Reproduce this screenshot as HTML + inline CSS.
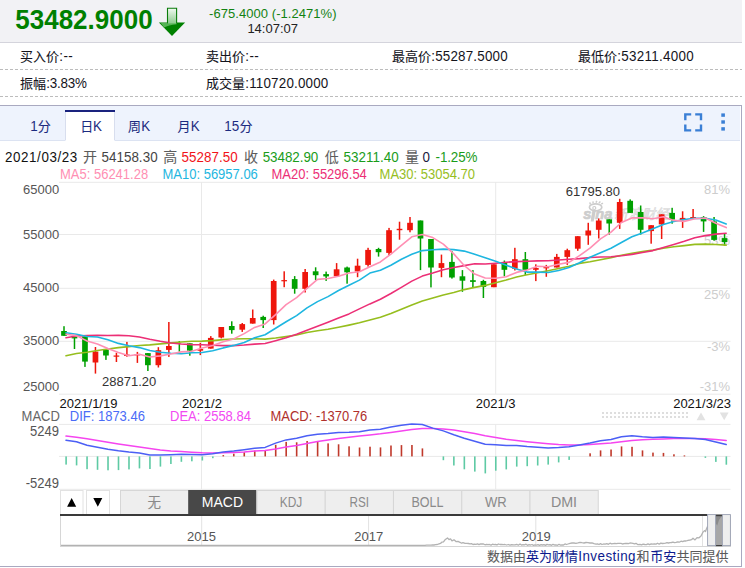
<!DOCTYPE html>
<html><head><meta charset="utf-8"><title>chart</title>
<style>html,body{margin:0;padding:0;background:#fff;overflow:hidden}svg{display:block}text{font-family:"Liberation Sans","Noto Sans CJK SC",sans-serif}</style>
</head><body>
<svg width="745" height="568" viewBox="0 0 745 568">
<rect x="0" y="0" width="742" height="42" fill="#f2f2f5"/>
<rect x="0" y="42" width="742" height="1" fill="#d4d4dc"/>
<g transform="translate(15.3,28.7) scale(1,1.075)"><text x="0" y="0" font-size="26" fill="#008000" font-weight="bold">53482.9000</text></g>
<defs><linearGradient id="ag" x1="0" y1="0" x2="0" y2="1"><stop offset="0" stop-color="#eef8ee"/><stop offset="1" stop-color="#8ecb8e"/></linearGradient>
<linearGradient id="ah" x1="0" y1="0" x2="1" y2="1"><stop offset="0" stop-color="#2a9a2a"/><stop offset="0.45" stop-color="#008000"/><stop offset="1" stop-color="#007800"/></linearGradient></defs>
<path d="M158.9 22.4H185.1L172 36Z" fill="#008000"/>
<path d="M160.800 23H176.600V24.300C171.500 24.700 166.800 26.200 164 27.600Z" fill="#55b455"/>
<rect x="168" y="8.8" width="8.1" height="14.6" fill="url(#ag)"/>
<path d="M167.500 23.200V8.300H176.600V23.200" fill="none" stroke="#0a7c0a" stroke-width="1.1"/>
<text x="272.8" y="17.9" font-size="13" fill="#128212" text-anchor="middle" textLength="127.4" lengthAdjust="spacing">-675.4000 (-1.2471%)</text>
<text x="272.7" y="33.2" font-size="13" fill="#222" text-anchor="middle">14:07:07</text>
<line x1="0" y1="69.5" x2="742" y2="69.5" stroke="#bcbcbc" stroke-width="1" stroke-dasharray="3 2"/>
<line x1="0" y1="96.5" x2="742" y2="96.5" stroke="#bcbcbc" stroke-width="1" stroke-dasharray="3 2"/>
<text x="20" y="60.5" font-size="13" fill="#14141c" stroke="#14141c" stroke-width="0.08">买入价</text><g transform="translate(59.3,60.8) scale(1,1.05)"><text x="0" y="0" font-size="13.4" fill="#14141c" textLength="13.4" lengthAdjust="spacing">:--</text></g>
<text x="206" y="60.5" font-size="13" fill="#14141c" stroke="#14141c" stroke-width="0.08">卖出价</text><g transform="translate(245.3,60.8) scale(1,1.05)"><text x="0" y="0" font-size="13.4" fill="#14141c" textLength="13.4" lengthAdjust="spacing">:--</text></g>
<text x="392" y="60.5" font-size="13" fill="#14141c" stroke="#14141c" stroke-width="0.08">最高价</text><g transform="translate(431.3,60.8) scale(1,1.05)"><text x="0" y="0" font-size="13.4" fill="#14141c" textLength="76.3" lengthAdjust="spacing">:55287.5000</text></g>
<text x="578" y="60.5" font-size="13" fill="#14141c" stroke="#14141c" stroke-width="0.08">最低价</text><g transform="translate(617.3,60.8) scale(1,1.05)"><text x="0" y="0" font-size="13.4" fill="#14141c" textLength="76.3" lengthAdjust="spacing">:53211.4000</text></g>
<text x="20" y="87.5" font-size="13" fill="#14141c" stroke="#14141c" stroke-width="0.08">振幅</text><g transform="translate(46.3,87.8) scale(1,1.05)"><text x="0" y="0" font-size="13.4" fill="#14141c" textLength="40.5" lengthAdjust="spacing">:3.83%</text></g>
<text x="206" y="87.5" font-size="13" fill="#14141c" stroke="#14141c" stroke-width="0.08">成交量</text><g transform="translate(245.3,87.8) scale(1,1.05)"><text x="0" y="0" font-size="13.4" fill="#14141c" textLength="83" lengthAdjust="spacing">:110720.0000</text></g>
<rect x="-1" y="105.5" width="742.5" height="461" fill="#fff" stroke="#a9a9c0" stroke-width="1"/>
<rect x="0" y="106" width="740" height="34" fill="#eef3fd"/>
<rect x="0" y="140" width="740" height="1" fill="#dce3f2"/>
<rect x="65.5" y="110" width="49" height="31" fill="#fff"/>
<rect x="65" y="112" width="1" height="28" fill="#d8deee"/><rect x="114" y="112" width="1" height="28" fill="#d8deee"/>
<rect x="65" y="110" width="50" height="2" fill="#1a237e"/>
<g transform="translate(30.3,131.2) scale(1,1.05)"><text x="0" y="0" font-size="13.4" fill="#1c2b80">1</text></g><text x="37.8" y="130.9" font-size="13" fill="#1c2b80" stroke="#1c2b80" stroke-width="0.08">分</text>
<text x="80.3" y="130.9" font-size="13" fill="#1c2b80" stroke="#1c2b80" stroke-width="0.08">日</text><g transform="translate(93.0,131.2) scale(1,1.05)"><text x="0" y="0" font-size="13.4" fill="#1c2b80">K</text></g>
<text x="128" y="130.9" font-size="13" fill="#1c2b80" stroke="#1c2b80" stroke-width="0.08">周</text><g transform="translate(141.2,131.2) scale(1,1.05)"><text x="0" y="0" font-size="13.4" fill="#1c2b80">K</text></g>
<text x="177.5" y="130.9" font-size="13" fill="#1c2b80" stroke="#1c2b80" stroke-width="0.08">月</text><g transform="translate(190.7,131.2) scale(1,1.05)"><text x="0" y="0" font-size="13.4" fill="#1c2b80">K</text></g>
<g transform="translate(224.3,131.2) scale(1,1.05)"><text x="0" y="0" font-size="13.4" fill="#1c2b80" textLength="15" lengthAdjust="spacing">15</text></g><text x="239.6" y="130.9" font-size="13" fill="#1c2b80" stroke="#1c2b80" stroke-width="0.08">分</text>
<path d="M685.3 120.2V114.4H691.2M695.2 114.4H701V120.2M701 124.6V130.4H695.2M691.2 130.4H685.3V124.6" fill="none" stroke="#3a7fd5" stroke-width="2.4"/>
<rect x="721.3" y="113.4" width="3.6" height="3.4" fill="#3a7fd5"/>
<rect x="721.3" y="120.3" width="3.6" height="3.4" fill="#3a7fd5"/>
<rect x="721.3" y="127.2" width="3.6" height="3.4" fill="#3a7fd5"/>
<g transform="translate(5,161.7) scale(1,1.05)"><text x="0" y="0" font-size="13.4" fill="#111" textLength="72.2" lengthAdjust="spacing">2021/03/23</text></g>
<text x="83.1" y="161.7" font-size="14" fill="#5c5c5c" stroke="#5c5c5c" stroke-width="0.06">开</text>
<g transform="translate(101.4,161.7) scale(1,1.05)"><text x="0" y="0" font-size="13.4" fill="#444" textLength="56.2" lengthAdjust="spacing">54158.30</text></g>
<text x="163.3" y="161.7" font-size="14" fill="#5c5c5c" stroke="#5c5c5c" stroke-width="0.06">高</text>
<g transform="translate(181.6,161.7) scale(1,1.05)"><text x="0" y="0" font-size="13.4" fill="#f1131a" textLength="56.2" lengthAdjust="spacing">55287.50</text></g>
<text x="244.1" y="161.7" font-size="14" fill="#5c5c5c" stroke="#5c5c5c" stroke-width="0.06">收</text>
<g transform="translate(262.7,161.7) scale(1,1.05)"><text x="0" y="0" font-size="13.4" fill="#1a9c1a" textLength="55.6" lengthAdjust="spacing">53482.90</text></g>
<text x="324.7" y="161.7" font-size="14" fill="#5c5c5c" stroke="#5c5c5c" stroke-width="0.06">低</text>
<g transform="translate(343.6,161.7) scale(1,1.05)"><text x="0" y="0" font-size="13.4" fill="#1a9c1a" textLength="55.2" lengthAdjust="spacing">53211.40</text></g>
<text x="404.9" y="161.7" font-size="14" fill="#5c5c5c" stroke="#5c5c5c" stroke-width="0.06">量</text>
<g transform="translate(422.4,161.7) scale(1,1.05)"><text x="0" y="0" font-size="13.4" fill="#1a1a40">0</text></g>
<g transform="translate(435.6,161.7) scale(1,1.05)"><text x="0" y="0" font-size="13.4" fill="#1a9c1a" textLength="41.8" lengthAdjust="spacing">-1.25%</text></g>
<line x1="59" y1="182.3" x2="730.5" y2="182.3" stroke="#e9e9e9" stroke-width="1"/><line x1="59" y1="234.5" x2="730.5" y2="234.5" stroke="#e9e9e9" stroke-width="1"/><line x1="59" y1="288.3" x2="730.5" y2="288.3" stroke="#e9e9e9" stroke-width="1"/><line x1="59" y1="341.3" x2="730.5" y2="341.3" stroke="#e9e9e9" stroke-width="1"/><line x1="59" y1="394.2" x2="730.5" y2="394.2" stroke="#e9e9e9" stroke-width="1"/><line x1="201.5" y1="182" x2="201.5" y2="394" stroke="#e9e9e9" stroke-width="1"/><line x1="201.5" y1="424.4" x2="201.5" y2="489.3" stroke="#e9e9e9" stroke-width="1"/><line x1="495.7" y1="182" x2="495.7" y2="394" stroke="#e9e9e9" stroke-width="1"/><line x1="495.7" y1="424.4" x2="495.7" y2="489.3" stroke="#e9e9e9" stroke-width="1"/>
<g transform="translate(60,178.6) scale(1,1.07)"><text x="0" y="0" font-size="13" fill="#ff8fb3">MA5: 56241.28</text></g>
<g transform="translate(162.5,178.6) scale(1,1.07)"><text x="0" y="0" font-size="13" fill="#1eb6e0">MA10: 56957.06</text></g>
<g transform="translate(271.5,178.6) scale(1,1.07)"><text x="0" y="0" font-size="13" fill="#ec2f76">MA20: 55296.54</text></g>
<g transform="translate(379.6,178.6) scale(1,1.07)"><text x="0" y="0" font-size="13" fill="#96be1e">MA30: 53054.70</text></g>
<g transform="translate(59.2,194.2) scale(1,1.05)"><text x="0" y="0" font-size="13" fill="#555" text-anchor="end">65000</text></g>
<g transform="translate(59.2,239.3) scale(1,1.05)"><text x="0" y="0" font-size="13" fill="#555" text-anchor="end">55000</text></g>
<g transform="translate(59.2,292.1) scale(1,1.05)"><text x="0" y="0" font-size="13" fill="#555" text-anchor="end">45000</text></g>
<g transform="translate(59.2,345.1) scale(1,1.05)"><text x="0" y="0" font-size="13" fill="#555" text-anchor="end">35000</text></g>
<g transform="translate(59.2,391.4) scale(1,1.05)"><text x="0" y="0" font-size="13" fill="#555" text-anchor="end">25000</text></g>
<g transform="translate(730,194.1) scale(1,1.05)"><text x="0" y="0" font-size="13" fill="#cdcdcd" text-anchor="end">81%</text></g>
<g transform="translate(730,245.0) scale(1,1.05)"><text x="0" y="0" font-size="13" fill="#cdcdcd" text-anchor="end">53%</text></g>
<g transform="translate(730,298.8) scale(1,1.05)"><text x="0" y="0" font-size="13" fill="#cdcdcd" text-anchor="end">25%</text></g>
<g transform="translate(730,351.1) scale(1,1.05)"><text x="0" y="0" font-size="13" fill="#cdcdcd" text-anchor="end">-3%</text></g>
<g transform="translate(730,391.2) scale(1,1.05)"><text x="0" y="0" font-size="13" fill="#cdcdcd" text-anchor="end">-31%</text></g>
<text x="583.2" y="218.7" font-size="14.2" font-weight="bold" font-style="italic" fill="#cdcdcd" stroke="#cdcdcd" stroke-width="0.7" textLength="29.2" lengthAdjust="spacingAndGlyphs">sina</text>
<path d="M592.6 210.500L590.700 221.600H593.700L595.600 210.500Z" fill="#cdcdcd"/>
<ellipse cx="595.6" cy="207.3" rx="6.2" ry="3.5" fill="#fff" stroke="#cdcdcd" stroke-width="1.7"/>
<circle cx="594.3" cy="208" r="1.5" fill="none" stroke="#cdcdcd" stroke-width="1.2"/>
<path d="M590.300 204.200L589.800 202.400M593 203L593.200 201.300M596 202.600L596.800 200.900M598.900 203L600.400 201.500M601.200 204.200L603 203.200" stroke="#cdcdcd" stroke-width="1.5" fill="none"/>
<g transform="translate(51.500,0) skewX(-13)" stroke-linejoin="round"><text x="613.3" y="218.6" font-size="13.6" fill="#f0f0f0" stroke="#d6d6d6" stroke-width="0.54" textLength="54.8" lengthAdjust="spacing">新浪财经</text></g>
<rect x="63.25" y="326.2" width="1.5" height="9.6" fill="#00a000"/><rect x="61.15" y="331.0" width="5.7" height="4.8" fill="#00a000"/><rect x="73.73" y="336.6" width="1.5" height="12.4" fill="#00a000"/><rect x="71.64" y="336.6" width="5.7" height="1.8" fill="#00a000"/><rect x="84.22" y="336.4" width="1.5" height="30.5" fill="#00a000"/><rect x="82.12" y="336.4" width="5.7" height="25.2" fill="#00a000"/><rect x="94.70" y="347.0" width="1.5" height="26.6" fill="#ee160c"/><rect x="92.61" y="351.6" width="5.7" height="10.9" fill="#ee160c"/><rect x="105.19" y="349.8" width="1.5" height="10.1" fill="#00a000"/><rect x="103.09" y="349.8" width="5.7" height="5.7" fill="#00a000"/><rect x="115.67" y="352.8" width="1.5" height="9.2" fill="#ee160c"/><rect x="113.58" y="355.5" width="5.7" height="1.2" fill="#ee160c"/><rect x="126.16" y="341.9" width="1.5" height="14.8" fill="#ee160c"/><rect x="124.06" y="354.6" width="5.7" height="1.4" fill="#ee160c"/><rect x="136.64" y="351.9" width="1.5" height="11.0" fill="#ee160c"/><rect x="134.54" y="354.2" width="5.7" height="1.2" fill="#ee160c"/><rect x="147.13" y="353.1" width="1.5" height="17.9" fill="#00a000"/><rect x="145.03" y="353.1" width="5.7" height="12.1" fill="#00a000"/><rect x="157.62" y="347.2" width="1.5" height="20.3" fill="#ee160c"/><rect x="155.52" y="350.2" width="5.7" height="15.0" fill="#ee160c"/><rect x="168.10" y="322.0" width="1.5" height="34.9" fill="#ee160c"/><rect x="166.00" y="346.0" width="5.7" height="3.9" fill="#ee160c"/><rect x="178.58" y="341.0" width="1.5" height="10.6" fill="#00a000"/><rect x="189.07" y="343.3" width="1.5" height="12.4" fill="#00a000"/><rect x="186.97" y="343.3" width="5.7" height="7.4" fill="#00a000"/><rect x="199.56" y="342.8" width="1.5" height="12.3" fill="#ee160c"/><rect x="197.46" y="349.0" width="5.7" height="1.7" fill="#ee160c"/><rect x="210.04" y="336.1" width="1.5" height="12.5" fill="#ee160c"/><rect x="207.94" y="337.9" width="5.7" height="10.7" fill="#ee160c"/><rect x="220.52" y="327.0" width="1.5" height="11.4" fill="#ee160c"/><rect x="218.42" y="327.0" width="5.7" height="10.5" fill="#ee160c"/><rect x="231.01" y="321.3" width="1.5" height="12.4" fill="#00a000"/><rect x="228.91" y="326.0" width="5.7" height="4.1" fill="#00a000"/><rect x="241.50" y="323.0" width="1.5" height="8.9" fill="#ee160c"/><rect x="239.40" y="324.1" width="5.7" height="5.6" fill="#ee160c"/><rect x="251.98" y="309.5" width="1.5" height="14.1" fill="#ee160c"/><rect x="249.88" y="318.0" width="5.7" height="5.6" fill="#ee160c"/><rect x="262.46" y="315.7" width="1.5" height="12.3" fill="#00a000"/><rect x="260.36" y="316.9" width="5.7" height="3.2" fill="#00a000"/><rect x="272.95" y="279.6" width="1.5" height="44.9" fill="#ee160c"/><rect x="270.85" y="281.0" width="5.7" height="39.1" fill="#ee160c"/><rect x="283.44" y="271.3" width="1.5" height="15.9" fill="#ee160c"/><rect x="281.33" y="280.1" width="5.7" height="1.2" fill="#ee160c"/><rect x="293.92" y="276.1" width="1.5" height="17.6" fill="#00a000"/><rect x="291.82" y="279.1" width="5.7" height="9.7" fill="#00a000"/><rect x="304.40" y="269.0" width="1.5" height="23.5" fill="#ee160c"/><rect x="302.30" y="272.0" width="5.7" height="16.8" fill="#ee160c"/><rect x="314.89" y="267.3" width="1.5" height="12.8" fill="#00a000"/><rect x="312.79" y="271.3" width="5.7" height="3.9" fill="#00a000"/><rect x="325.38" y="271.6" width="1.5" height="9.3" fill="#00a000"/><rect x="323.27" y="274.1" width="5.7" height="2.3" fill="#00a000"/><rect x="335.86" y="263.1" width="1.5" height="13.2" fill="#ee160c"/><rect x="333.76" y="269.3" width="5.7" height="7.0" fill="#ee160c"/><rect x="346.34" y="266.6" width="1.5" height="17.1" fill="#00a000"/><rect x="344.24" y="267.5" width="5.7" height="4.8" fill="#00a000"/><rect x="356.83" y="258.7" width="1.5" height="18.5" fill="#ee160c"/><rect x="354.73" y="265.7" width="5.7" height="5.8" fill="#ee160c"/><rect x="367.31" y="247.8" width="1.5" height="18.8" fill="#ee160c"/><rect x="365.21" y="249.9" width="5.7" height="15.0" fill="#ee160c"/><rect x="377.80" y="247.8" width="1.5" height="8.8" fill="#00a000"/><rect x="375.70" y="249.0" width="5.7" height="3.2" fill="#00a000"/><rect x="388.28" y="227.9" width="1.5" height="27.8" fill="#ee160c"/><rect x="386.18" y="230.2" width="5.7" height="22.7" fill="#ee160c"/><rect x="398.77" y="221.7" width="1.5" height="18.0" fill="#ee160c"/><rect x="396.67" y="228.8" width="5.7" height="1.4" fill="#ee160c"/><rect x="409.25" y="217.0" width="1.5" height="15.3" fill="#ee160c"/><rect x="407.15" y="222.8" width="5.7" height="7.4" fill="#ee160c"/><rect x="419.74" y="220.5" width="1.5" height="49.6" fill="#00a000"/><rect x="417.64" y="220.5" width="5.7" height="18.0" fill="#00a000"/><rect x="430.22" y="239.0" width="1.5" height="48.4" fill="#00a000"/><rect x="428.12" y="239.0" width="5.7" height="28.5" fill="#00a000"/><rect x="440.71" y="254.6" width="1.5" height="22.6" fill="#ee160c"/><rect x="438.61" y="263.1" width="5.7" height="4.8" fill="#ee160c"/><rect x="451.19" y="251.1" width="1.5" height="27.5" fill="#00a000"/><rect x="449.09" y="261.9" width="5.7" height="15.6" fill="#00a000"/><rect x="461.68" y="270.1" width="1.5" height="21.7" fill="#00a000"/><rect x="459.58" y="276.3" width="5.7" height="4.4" fill="#00a000"/><rect x="472.16" y="270.1" width="1.5" height="17.6" fill="#00a000"/><rect x="470.06" y="280.2" width="5.7" height="1.7" fill="#00a000"/><rect x="482.65" y="279.8" width="1.5" height="18.2" fill="#00a000"/><rect x="480.55" y="281.0" width="5.7" height="5.9" fill="#00a000"/><rect x="493.13" y="264.3" width="1.5" height="22.9" fill="#ee160c"/><rect x="491.03" y="264.3" width="5.7" height="22.9" fill="#ee160c"/><rect x="503.62" y="260.5" width="1.5" height="15.8" fill="#00a000"/><rect x="501.52" y="262.6" width="5.7" height="7.2" fill="#00a000"/><rect x="514.11" y="247.8" width="1.5" height="22.7" fill="#ee160c"/><rect x="512.00" y="259.2" width="5.7" height="9.5" fill="#ee160c"/><rect x="524.59" y="252.0" width="1.5" height="22.9" fill="#00a000"/><rect x="522.49" y="259.2" width="5.7" height="10.6" fill="#00a000"/><rect x="535.08" y="264.3" width="1.5" height="16.8" fill="#ee160c"/><rect x="532.98" y="268.0" width="5.7" height="1.8" fill="#ee160c"/><rect x="545.56" y="264.9" width="1.5" height="11.9" fill="#ee160c"/><rect x="543.46" y="267.1" width="5.7" height="1.2" fill="#ee160c"/><rect x="556.04" y="253.9" width="1.5" height="13.6" fill="#ee160c"/><rect x="553.94" y="256.9" width="5.7" height="10.6" fill="#ee160c"/><rect x="566.53" y="248.7" width="1.5" height="16.2" fill="#ee160c"/><rect x="564.43" y="250.2" width="5.7" height="6.7" fill="#ee160c"/><rect x="577.01" y="236.2" width="1.5" height="14.6" fill="#ee160c"/><rect x="574.91" y="236.2" width="5.7" height="12.5" fill="#ee160c"/><rect x="587.50" y="222.8" width="1.5" height="22.0" fill="#ee160c"/><rect x="585.40" y="230.5" width="5.7" height="5.0" fill="#ee160c"/><rect x="597.99" y="218.4" width="1.5" height="20.1" fill="#ee160c"/><rect x="595.88" y="220.5" width="5.7" height="9.3" fill="#ee160c"/><rect x="608.47" y="219.3" width="1.5" height="15.3" fill="#00a000"/><rect x="606.37" y="219.3" width="5.7" height="4.2" fill="#00a000"/><rect x="618.95" y="198.8" width="1.5" height="30.1" fill="#ee160c"/><rect x="616.85" y="202.0" width="5.7" height="20.8" fill="#ee160c"/><rect x="629.44" y="199.4" width="1.5" height="13.5" fill="#00a000"/><rect x="627.34" y="200.8" width="5.7" height="12.1" fill="#00a000"/><rect x="639.92" y="205.5" width="1.5" height="29.1" fill="#00a000"/><rect x="637.82" y="212.0" width="5.7" height="17.8" fill="#00a000"/><rect x="650.41" y="225.2" width="1.5" height="18.5" fill="#ee160c"/><rect x="648.31" y="225.2" width="5.7" height="5.9" fill="#ee160c"/><rect x="660.89" y="214.3" width="1.5" height="24.7" fill="#ee160c"/><rect x="658.79" y="214.3" width="5.7" height="10.1" fill="#ee160c"/><rect x="671.38" y="207.8" width="1.5" height="15.9" fill="#00a000"/><rect x="669.28" y="212.9" width="5.7" height="6.7" fill="#00a000"/><rect x="681.87" y="211.3" width="1.5" height="16.6" fill="#ee160c"/><rect x="679.76" y="217.9" width="5.7" height="2.2" fill="#ee160c"/><rect x="692.35" y="209.0" width="1.5" height="9.4" fill="#ee160c"/><rect x="690.25" y="217.0" width="5.7" height="1.4" fill="#ee160c"/><rect x="702.83" y="216.1" width="1.5" height="15.8" fill="#00a000"/><rect x="700.73" y="217.0" width="5.7" height="4.4" fill="#00a000"/><rect x="713.32" y="217.0" width="1.5" height="23.7" fill="#00a000"/><rect x="711.22" y="221.4" width="5.7" height="18.5" fill="#00a000"/><rect x="723.80" y="233.7" width="1.5" height="11.8" fill="#00a000"/><rect x="721.70" y="238.1" width="5.7" height="3.9" fill="#00a000"/>
<polyline points="66.0,355.8 76.5,353.5 87.0,352.2 97.4,350.5 107.9,349.0 118.4,347.6 128.9,346.6 139.4,345.5 149.8,344.9 160.3,343.9 170.8,342.9 181.3,342.0 191.8,341.3 202.2,341.1 212.7,340.6 223.2,339.6 233.7,339.0 244.2,338.8 254.6,338.8 265.1,339.1 275.6,338.0 286.1,336.6 296.6,335.0 307.0,332.5 317.5,330.7 328.0,329.3 338.5,327.2 349.0,325.1 359.4,322.8 369.9,320.0 380.4,317.2 390.9,313.6 401.4,309.2 411.8,304.9 422.3,301.0 432.8,298.1 443.3,295.0 453.8,292.5 464.2,289.6 474.7,287.4 485.2,285.4 495.7,282.7 506.2,280.0 516.6,277.0 527.1,274.8 537.6,272.8 548.1,270.7 558.6,268.5 569.0,266.2 579.5,263.4 590.0,261.7 600.5,259.7 611.0,257.6 621.4,255.2 631.9,253.2 642.4,251.6 652.9,250.1 663.4,248.2 673.8,246.7 684.3,245.6 694.8,244.4 705.3,244.1 715.8,244.5 726.2,245.1" fill="none" stroke="#96be1e" stroke-width="1.6" stroke-linejoin="round" stroke-linecap="round"/>
<polyline points="66.0,337.8 76.5,336.0 87.0,335.6 97.4,335.3 107.9,335.5 118.4,335.4 128.9,335.8 139.4,337.0 149.8,339.3 160.3,341.3 170.8,343.0 181.3,344.0 191.8,344.6 202.2,344.8 212.7,345.2 223.2,345.6 233.7,345.6 244.2,345.0 254.6,344.1 265.1,343.5 275.6,340.7 286.1,337.8 296.6,334.2 307.0,330.2 317.5,326.2 328.0,322.2 338.5,318.0 349.0,313.9 359.4,308.9 369.9,303.9 380.4,299.2 390.9,293.5 401.4,287.4 411.8,281.1 422.3,276.1 432.8,273.1 443.3,269.8 453.8,267.5 464.2,265.6 474.7,263.7 485.2,264.0 495.7,263.2 506.2,262.2 516.6,261.6 527.1,261.3 537.6,260.9 548.1,260.8 558.6,260.0 569.0,259.3 579.5,258.6 590.0,257.5 600.5,257.0 611.0,256.7 621.4,255.7 631.9,254.4 642.4,252.5 652.9,250.6 663.4,247.5 673.8,244.4 684.3,241.2 694.8,237.7 705.3,235.6 715.8,234.1 726.2,233.2" fill="none" stroke="#ec2f76" stroke-width="1.6" stroke-linejoin="round" stroke-linecap="round"/>
<polyline points="66.0,332.7 76.5,334.2 87.0,336.5 97.4,337.0 107.9,339.7 118.4,343.4 128.9,345.7 139.4,347.6 149.8,350.5 160.3,352.3 170.8,353.3 181.3,353.8 191.8,352.8 202.2,352.5 212.7,350.7 223.2,347.9 233.7,345.4 244.2,342.4 254.6,337.7 265.1,334.7 275.6,328.2 286.1,321.8 296.6,315.6 307.0,307.9 317.5,301.6 328.0,296.6 338.5,290.5 349.0,285.3 359.4,280.1 369.9,273.1 380.4,270.2 390.9,265.2 401.4,259.2 411.8,254.3 422.3,250.6 432.8,249.7 443.3,249.1 453.8,249.6 464.2,251.1 474.7,254.3 485.2,257.8 495.7,261.2 506.2,265.3 516.6,268.9 527.1,272.1 537.6,272.1 548.1,272.5 558.6,270.5 569.0,267.4 579.5,262.8 590.0,257.2 600.5,252.8 611.0,248.2 621.4,242.5 631.9,236.8 642.4,233.0 652.9,228.8 663.4,224.5 673.8,221.5 684.3,219.6 694.8,218.3 705.3,218.4 715.8,220.0 726.2,224.0" fill="none" stroke="#1eb6e0" stroke-width="1.6" stroke-linejoin="round" stroke-linecap="round"/>
<polyline points="66.0,334.2 76.5,335.6 87.0,341.0 97.4,344.0 107.9,348.6 118.4,352.5 128.9,355.8 139.4,354.3 149.8,357.0 160.3,355.9 170.8,354.0 181.3,351.9 191.8,351.2 202.2,348.0 212.7,345.5 223.2,341.7 233.7,338.9 244.2,333.6 254.6,327.4 265.1,323.9 275.6,314.7 286.1,304.7 296.6,297.6 307.0,288.4 317.5,279.4 328.0,278.5 338.5,276.3 349.0,273.0 359.4,271.8 369.9,266.7 380.4,261.9 390.9,254.1 401.4,245.4 411.8,236.8 422.3,234.5 432.8,237.6 443.3,244.1 453.8,253.9 464.2,265.5 474.7,274.1 485.2,278.0 495.7,278.3 506.2,276.7 516.6,272.4 527.1,270.0 537.6,266.2 548.1,266.8 558.6,264.2 569.0,262.4 579.5,255.7 590.0,248.2 600.5,238.9 611.0,232.2 621.4,222.5 631.9,217.9 642.4,217.7 652.9,218.7 663.4,216.8 673.8,220.4 684.3,221.4 694.8,218.8 705.3,218.0 715.8,223.2 726.2,227.6" fill="none" stroke="#ff8fb3" stroke-width="1.6" stroke-linejoin="round" stroke-linecap="round"/>
<text x="565.8" y="195.8" font-size="13" fill="#333">61795.80</text>
<text x="102" y="386.2" font-size="13" fill="#333">28871.20</text>
<text x="59.6" y="408.4" font-size="13" fill="#111">2021/1/19</text>
<text x="202" y="408.4" font-size="13" fill="#111" text-anchor="middle">2021/2</text>
<text x="495.6" y="408.4" font-size="13" fill="#111" text-anchor="middle">2021/3</text>
<text x="731" y="408.4" font-size="13" fill="#111" text-anchor="end">2021/3/23</text>
<line x1="602" y1="413.0" x2="688" y2="413.0" stroke="#dedede" stroke-width="2" stroke-dasharray="2 2"/><line x1="602" y1="417.0" x2="688" y2="417.0" stroke="#dedede" stroke-width="2" stroke-dasharray="2 2"/>
<path d="M696.6 420.3L701 412.6L705.4 420.3Z M719.8 412.6H728.6L724.2 420.3Z" fill="#e2e2e2"/>
<g transform="translate(21.6,420.8) scale(1,1.07)"><text x="0" y="0" font-size="13" fill="#666">MACD</text></g>
<g transform="translate(69.8,420.8) scale(1,1.07)"><text x="0" y="0" font-size="13" fill="#4a6cf7">DIF: 1873.46</text></g>
<g transform="translate(170,420.8) scale(1,1.07)"><text x="0" y="0" font-size="13" fill="#f24af2">DEA: 2558.84</text></g>
<g transform="translate(270.5,420.8) scale(1,1.07)"><text x="0" y="0" font-size="13" fill="#b0302c">MACD: -1370.76</text></g>
<line x1="59" y1="424.4" x2="730.5" y2="424.4" stroke="#e9e9e9" stroke-width="1"/>
<line x1="59" y1="456.4" x2="730.5" y2="456.4" stroke="#e9e9e9" stroke-width="1"/>
<line x1="59" y1="489.3" x2="730.5" y2="489.3" stroke="#e9e9e9" stroke-width="1"/>
<g transform="translate(59,436.2) scale(1,1.07)"><text x="0" y="0" font-size="13" fill="#555" text-anchor="end">5249</text></g>
<g transform="translate(59,488.2) scale(1,1.07)"><text x="0" y="0" font-size="13" fill="#555" text-anchor="end">-5249</text></g>
<rect x="65.30" y="456.4" width="1.6" height="8.2" fill="#5ecaa4"/><rect x="75.78" y="456.4" width="1.6" height="9.0" fill="#5ecaa4"/><rect x="86.26" y="456.4" width="1.6" height="12.8" fill="#5ecaa4"/><rect x="96.74" y="456.4" width="1.6" height="13.4" fill="#5ecaa4"/><rect x="107.22" y="456.4" width="1.6" height="13.9" fill="#5ecaa4"/><rect x="117.70" y="456.4" width="1.6" height="13.7" fill="#5ecaa4"/><rect x="128.18" y="456.4" width="1.6" height="13.0" fill="#5ecaa4"/><rect x="138.66" y="456.4" width="1.6" height="12.0" fill="#5ecaa4"/><rect x="149.14" y="456.4" width="1.6" height="12.6" fill="#5ecaa4"/><rect x="159.62" y="456.4" width="1.6" height="10.2" fill="#5ecaa4"/><rect x="170.10" y="456.4" width="1.6" height="7.6" fill="#5ecaa4"/><rect x="180.58" y="456.4" width="1.6" height="5.4" fill="#5ecaa4"/><rect x="191.06" y="456.4" width="1.6" height="4.9" fill="#5ecaa4"/><rect x="201.54" y="456.4" width="1.6" height="4.1" fill="#5ecaa4"/><rect x="212.02" y="456.4" width="1.6" height="1.8" fill="#5ecaa4"/><rect x="222.50" y="455.1" width="1.6" height="1.3" fill="#c0392b"/><rect x="232.98" y="453.7" width="1.6" height="2.7" fill="#c0392b"/><rect x="243.46" y="452.2" width="1.6" height="4.2" fill="#c0392b"/><rect x="253.94" y="450.6" width="1.6" height="5.8" fill="#c0392b"/><rect x="264.42" y="450.4" width="1.6" height="6.0" fill="#c0392b"/><rect x="274.90" y="444.8" width="1.6" height="11.6" fill="#c0392b"/><rect x="285.38" y="441.9" width="1.6" height="14.5" fill="#c0392b"/><rect x="295.86" y="442.3" width="1.6" height="14.1" fill="#c0392b"/><rect x="306.34" y="441.0" width="1.6" height="15.4" fill="#c0392b"/><rect x="316.82" y="441.7" width="1.6" height="14.7" fill="#c0392b"/><rect x="327.30" y="443.4" width="1.6" height="13.0" fill="#c0392b"/><rect x="337.78" y="444.3" width="1.6" height="12.1" fill="#c0392b"/><rect x="348.26" y="446.3" width="1.6" height="10.1" fill="#c0392b"/><rect x="358.74" y="447.5" width="1.6" height="8.9" fill="#c0392b"/><rect x="369.22" y="446.7" width="1.6" height="9.7" fill="#c0392b"/><rect x="379.70" y="447.4" width="1.6" height="9.0" fill="#c0392b"/><rect x="390.18" y="445.5" width="1.6" height="10.9" fill="#c0392b"/><rect x="400.66" y="445.1" width="1.6" height="11.3" fill="#c0392b"/><rect x="411.14" y="445.0" width="1.6" height="11.4" fill="#c0392b"/><rect x="421.62" y="448.4" width="1.6" height="8.0" fill="#c0392b"/><rect x="442.58" y="456.4" width="1.6" height="3.8" fill="#5ecaa4"/><rect x="453.06" y="456.4" width="1.6" height="9.1" fill="#5ecaa4"/><rect x="463.54" y="456.4" width="1.6" height="12.9" fill="#5ecaa4"/><rect x="474.02" y="456.4" width="1.6" height="15.2" fill="#5ecaa4"/><rect x="484.50" y="456.4" width="1.6" height="17.0" fill="#5ecaa4"/><rect x="494.98" y="456.4" width="1.6" height="14.3" fill="#5ecaa4"/><rect x="505.46" y="456.4" width="1.6" height="13.0" fill="#5ecaa4"/><rect x="515.94" y="456.4" width="1.6" height="10.2" fill="#5ecaa4"/><rect x="526.42" y="456.4" width="1.6" height="9.8" fill="#5ecaa4"/><rect x="536.90" y="456.4" width="1.6" height="9.1" fill="#5ecaa4"/><rect x="547.38" y="456.4" width="1.6" height="8.2" fill="#5ecaa4"/><rect x="557.86" y="456.4" width="1.6" height="6.0" fill="#5ecaa4"/><rect x="568.34" y="456.4" width="1.6" height="3.5" fill="#5ecaa4"/><rect x="589.30" y="453.3" width="1.6" height="3.1" fill="#c0392b"/><rect x="599.78" y="450.4" width="1.6" height="6.0" fill="#c0392b"/><rect x="610.26" y="449.5" width="1.6" height="6.9" fill="#c0392b"/><rect x="620.74" y="446.4" width="1.6" height="10.0" fill="#c0392b"/><rect x="631.22" y="446.8" width="1.6" height="9.6" fill="#c0392b"/><rect x="641.70" y="450.4" width="1.6" height="6.0" fill="#c0392b"/><rect x="652.18" y="452.6" width="1.6" height="3.8" fill="#c0392b"/><rect x="662.66" y="452.9" width="1.6" height="3.5" fill="#c0392b"/><rect x="673.14" y="454.3" width="1.6" height="2.1" fill="#c0392b"/><rect x="683.62" y="455.4" width="1.6" height="1.0" fill="#c0392b"/><rect x="704.58" y="456.4" width="1.6" height="1.5" fill="#5ecaa4"/><rect x="715.06" y="456.4" width="1.6" height="5.5" fill="#5ecaa4"/><rect x="725.54" y="456.4" width="1.6" height="8.3" fill="#5ecaa4"/>
<polyline points="66.0,436.1 76.5,437.2 87.0,438.8 97.4,440.5 107.9,442.2 118.4,443.9 128.9,445.6 139.4,447.1 149.8,448.6 160.3,449.9 170.8,450.9 181.3,451.5 191.8,452.2 202.2,452.7 212.7,452.9 223.2,452.7 233.7,452.4 244.2,451.9 254.6,451.1 265.1,450.4 275.6,448.9 286.1,447.1 296.6,445.4 307.0,443.4 317.5,441.6 328.0,440.0 338.5,438.5 349.0,437.2 359.4,436.1 369.9,434.9 380.4,433.8 390.9,432.4 401.4,431.0 411.8,429.6 422.3,428.6 432.8,428.5 443.3,429.0 453.8,430.1 464.2,431.7 474.7,433.6 485.2,435.7 495.7,437.5 506.2,439.2 516.6,440.4 527.1,441.7 537.6,442.8 548.1,443.8 558.6,444.6 569.0,445.0 579.5,445.0 590.0,444.6 600.5,443.8 611.0,443.0 621.4,441.7 631.9,440.5 642.4,439.8 652.9,439.3 663.4,438.9 673.8,438.6 684.3,438.5 694.8,438.5 705.3,438.7 715.8,439.4 726.2,440.4" fill="none" stroke="#f545ef" stroke-width="1.5" stroke-linejoin="round" stroke-linecap="round"/>
<polyline points="66.0,440.2 76.5,441.7 87.0,445.2 97.4,447.2 107.9,449.2 118.4,450.8 128.9,452.1 139.4,453.1 149.8,454.9 160.3,455.0 170.8,454.7 181.3,454.3 191.8,454.6 202.2,454.7 212.7,453.8 223.2,452.1 233.7,451.1 244.2,449.8 254.6,448.3 265.1,447.4 275.6,443.1 286.1,439.9 296.6,438.3 307.0,435.8 317.5,434.3 328.0,433.5 338.5,432.4 349.0,432.2 359.4,431.7 369.9,430.0 380.4,429.3 390.9,427.0 401.4,425.3 411.8,423.9 422.3,424.5 432.8,428.1 443.3,430.9 453.8,434.7 464.2,438.2 474.7,441.2 485.2,444.3 495.7,444.7 506.2,445.6 516.6,445.5 527.1,446.6 537.6,447.3 548.1,447.9 558.6,447.5 569.0,446.7 579.5,444.9 590.0,443.0 600.5,440.8 611.0,439.5 621.4,436.7 631.9,435.7 642.4,436.8 652.9,437.4 663.4,437.1 673.8,437.6 684.3,438.0 694.8,438.4 705.3,439.4 715.8,442.1 726.2,444.6" fill="none" stroke="#4b5ff5" stroke-width="1.5" stroke-linejoin="round" stroke-linecap="round"/>
<rect x="60.5" y="490.5" width="22.5" height="24" fill="#fff" stroke="#e2e2e2"/>
<rect x="86.5" y="490.5" width="23" height="24" fill="#fff" stroke="#e2e2e2"/>
<path d="M67.1 506.7L71.65 498L76.2 506.7Z M93.3 498H102.3L97.8 506.700Z" fill="#000"/>
<rect x="120.5" y="490.5" width="68.25" height="24" fill="#eeeeee" stroke="#d6d6d6"/>
<text x="147.43" y="506.6" font-size="13.5" fill="#8a8a8a" stroke="#8a8a8a" stroke-width="0.08">无</text>
<rect x="188.2" y="490" width="68.25" height="24.500" fill="#484848"/>
<text x="222.4" y="507.3" font-size="14" fill="#fff" text-anchor="middle">MACD</text>
<rect x="257.0" y="490.5" width="68.25" height="24" fill="#eeeeee" stroke="#d6d6d6"/>
<text x="279.8" y="507.3" font-size="14.3" fill="#8a8a8a" textLength="22.5" lengthAdjust="spacingAndGlyphs">KDJ</text>
<rect x="325.2" y="490.5" width="68.25" height="24" fill="#eeeeee" stroke="#d6d6d6"/>
<text x="349.5" y="507.3" font-size="14.3" fill="#8a8a8a" textLength="19.5" lengthAdjust="spacingAndGlyphs">RSI</text>
<rect x="393.5" y="490.5" width="68.25" height="24" fill="#eeeeee" stroke="#d6d6d6"/>
<text x="411.5" y="507.3" font-size="14.3" fill="#8a8a8a" textLength="32" lengthAdjust="spacingAndGlyphs">BOLL</text>
<rect x="461.8" y="490.5" width="68.25" height="24" fill="#eeeeee" stroke="#d6d6d6"/>
<text x="484.9" y="507.3" font-size="14.3" fill="#8a8a8a" textLength="21.8" lengthAdjust="spacingAndGlyphs">WR</text>
<rect x="530.0" y="490.5" width="68.25" height="24" fill="#eeeeee" stroke="#d6d6d6"/>
<text x="550.9" y="507.3" font-size="14.3" fill="#8a8a8a" textLength="26.2" lengthAdjust="spacingAndGlyphs">DMI</text>
<rect x="60.5" y="515.5" width="670" height="31" fill="#fff" stroke="#d6d6d6"/>
<line x1="201.7" y1="516" x2="201.7" y2="546" stroke="#e2e2e2"/>
<line x1="368.6" y1="516" x2="368.6" y2="546" stroke="#e2e2e2"/>
<line x1="535.8" y1="516" x2="535.8" y2="546" stroke="#e2e2e2"/>
<line x1="702.5" y1="516" x2="702.5" y2="546" stroke="#e2e2e2"/>
<text x="201.5" y="541.2" font-size="13" fill="#555" text-anchor="middle">2015</text>
<text x="368.7" y="541.2" font-size="13" fill="#555" text-anchor="middle">2017</text>
<text x="536.2" y="541.2" font-size="13" fill="#555" text-anchor="middle">2019</text>
<polyline points="61,545.3 425.0,545.3 426.5,545.2 428.0,545.2 429.5,545.1 431.0,545.1 432.5,545.0 434.0,545.0 435.7,544.7 437.3,544.5 439.0,543.9 440.5,543.4 442.0,542.1 443.5,541.9 445.0,539.8 447.5,537.9 449.0,539.6 450.5,538.9 452.0,540.9 454.0,539.8 456.0,541.6 458.0,541.4 460.0,542.3 461.5,543.2 463.0,542.6 465.0,543.4 467.0,543.3 468.5,543.5 470.0,543.9 471.5,543.6 473.0,544.5 474.5,544.1 476.0,544.3 477.5,543.9 479.0,544.6 480.5,543.9 482.0,544.0 483.5,544.0 485.0,544.8 486.5,544.3 488.0,544.7 489.5,544.5 491.0,545.1 492.5,544.2 494.0,544.6 495.5,544.5 497.0,544.9 498.5,544.0 500.0,544.5 501.7,544.4 503.3,544.7 505.0,544.5 506.7,545.0 508.3,544.5 510.0,545.2 511.7,544.6 513.3,544.9 515.0,544.9 516.7,544.3 518.3,545.2 520.0,544.0 521.5,545.1 523.0,544.6 524.5,544.9 526.0,544.2 527.5,545.3 529.0,544.7 530.5,545.0 532.0,544.5 533.5,545.4 535.0,544.8 536.5,545.1 538.0,544.6 539.5,545.4 541.0,544.6 542.5,545.0 544.0,544.6 545.5,545.4 547.0,544.4 548.5,544.9 550.0,544.6 551.5,545.3 553.0,544.3 554.5,545.0 556.0,544.8 557.5,545.3 559.0,544.3 560.5,545.1 562.0,544.8 563.5,545.0 565.0,543.9 566.5,544.5 568.0,544.0 570.0,543.4 572.0,543.0 574.0,543.0 576.0,543.3 578.0,542.9 580.0,542.3 582.0,542.7 584.0,543.0 586.0,542.5 588.0,542.6 590.0,543.0 592.0,542.9 594.0,543.7 596.0,544.1 597.5,543.9 599.0,544.5 600.5,543.6 602.0,544.5 603.6,544.0 605.2,544.1 606.8,543.6 608.4,544.3 610.0,543.2 611.6,543.9 613.2,543.6 614.8,543.3 616.4,543.6 618.0,543.3 619.5,543.3 621.0,543.4 622.5,544.0 624.0,543.7 625.5,543.5 627.0,543.4 628.5,543.7 630.0,543.0 631.5,543.2 633.0,543.4 634.5,543.8 636.0,543.3 638.0,544.7 640.0,544.4 641.6,544.9 643.2,544.2 644.8,544.5 646.4,544.6 648.0,543.9 649.6,544.6 651.2,543.9 652.8,544.1 654.4,543.8 656.0,544.1 657.6,543.2 659.2,544.2 660.8,543.1 662.4,543.5 664.0,543.4 665.5,543.2 667.0,542.6 668.5,543.0 670.0,542.7 671.5,542.5 673.0,542.1 674.5,542.7 676.0,542.3 677.7,541.8 679.3,542.2 681.0,541.2 682.7,541.7 684.3,540.9 686.0,541.0 688.0,540.3 690.0,540.0 691.5,539.7 693.0,538.3 695.0,539.9 697.0,537.6 699.0,537.8 701.0,536.0 703.0,532.1 704.5,530.6 705.5,531.5 706.5,528.8 707.5,526.5" fill="none" stroke="#b2b2b2" stroke-width="1.3" stroke-linejoin="round"/>
<rect x="60" y="514" width="647.5" height="2" fill="#3a3a3a"/>
<rect x="715.5" y="514.5" width="7" height="31.5" fill="#a7a7a7"/>
<path d="M715.500 516V523L717.200 525.500L719 520L721.500 516.500L722.500 516Z" fill="#8a8a8a"/>
<rect x="715.5" y="514.6" width="7" height="1.6" fill="#3c3c3c"/>
<rect x="715.5" y="545" width="7" height="1.2" fill="#3c3c3c"/>
<rect x="707.6" y="514.6" width="8" height="31" fill="#eeeeee" stroke="#9aa0b2" stroke-width="0.9"/>
<rect x="722.4" y="514.6" width="8" height="31" fill="#eeeeee" stroke="#9aa0b2" stroke-width="0.9"/>
<text x="487" y="561.2" font-size="13" fill="#5a5a5a" stroke="#5a5a5a" stroke-width="0.08">数据由</text>
<text x="526" y="561.2" font-size="13" fill="#0c1a8e" stroke="#0c1a8e" stroke-width="0.08">英为财情</text>
<g transform="translate(578.3,561.4000000000001) scale(1,1.05)"><text x="0" y="0" font-size="13.4" fill="#0c1a8e" textLength="57.2" lengthAdjust="spacing">Investing</text></g>
<text x="636.4" y="561.2" font-size="13" fill="#5a5a5a" stroke="#5a5a5a" stroke-width="0.08">和</text>
<text x="650.2" y="561.2" font-size="13" fill="#0c1a8e" stroke="#0c1a8e" stroke-width="0.08">币安</text>
<text x="676.6" y="561.2" font-size="13" fill="#5a5a5a" stroke="#5a5a5a" stroke-width="0.08">共同提供</text>
</svg>
</body></html>
